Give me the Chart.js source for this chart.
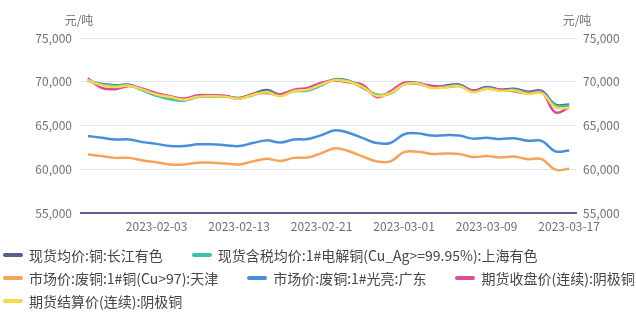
<!DOCTYPE html>
<html>
<head>
<meta charset="utf-8">
<script src="https://cdn.jsdelivr.net/npm/chart.js@4.4.0/dist/chart.umd.min.js"></script>
<style>
  body { margin: 0; background: #fff; }
  #wrap { position: relative; width: 636px; height: 313px; }
  #myChart { position: absolute; left: 0; top: 0; }
  #legend { position: absolute; left: 3px; top: 243px; width: 636px; display: flex; flex-wrap: wrap; column-gap: 29px;
    font-family: "Noto Sans CJK SC", sans-serif; font-size: 14px; color: #464646; }
  .item { display: flex; align-items: center; height: 23px; white-space: nowrap; }
  .sw { width: 20px; height: 4px; border-radius: 2px; margin-right: 6px; }
</style>
</head>
<body>
<div id="wrap">
  <canvas id="myChart" width="636" height="245"></canvas>
  <div id="legend"></div>
</div>
<script>
var dates = ['2023-01-20','2023-01-30','2023-01-31','2023-02-01','2023-02-02','2023-02-03',
  '2023-02-06','2023-02-07','2023-02-08','2023-02-09','2023-02-10','2023-02-13',
  '2023-02-14','2023-02-15','2023-02-16','2023-02-17','2023-02-20','2023-02-21',
  '2023-02-22','2023-02-23','2023-02-24','2023-02-27','2023-02-28','2023-03-01',
  '2023-03-02','2023-03-03','2023-03-06','2023-03-07','2023-03-08','2023-03-09',
  '2023-03-10','2023-03-13','2023-03-14','2023-03-15','2023-03-16','2023-03-17'];
var shownDates = ['2023-02-03','2023-02-13','2023-02-21','2023-03-01','2023-03-09','2023-03-17'];

var names = ['现货均价:铜:长江有色', '现货含税均价:1#电解铜(Cu_Ag>=99.95%):上海有色',
  '市场价:废铜:1#铜(Cu>97):天津', '市场价:废铜:1#光亮:广东', '期货收盘价(连续):阴极铜', '期货结算价(连续):阴极铜'];
var colors = ['#5a5f92', '#3dbfae', '#f5a25a', '#4a8ed9', '#d94f97', '#f4d94a'];

var cjSpot = [70150,69750,69600,69650,69100,68500,68100,67900,68300,68350,68350,68150,
  68600,69050,68550,69000,69100,69700,70300,70100,69350,68500,68700,69800,
  69850,69450,69550,69700,69000,69400,69100,69200,68850,68950,67400,67400];
var shSpot = [70100,69700,69550,69600,69000,68400,68000,67850,68250,68300,68300,68100,
  68450,68900,68500,68900,69000,69600,70250,70050,69300,68550,68650,69700,
  69750,69350,69450,69600,68900,69300,69000,69100,68750,68850,67300,67300];
var scrapTj = [61700,61500,61300,61300,61000,60800,60550,60550,60750,60750,60650,60550,
  60900,61200,60950,61300,61350,61850,62400,62050,61450,60900,60900,61950,
  62000,61750,61800,61750,61400,61500,61350,61450,61150,61150,59950,60050];
var scrapGd = [63800,63600,63400,63400,63100,62900,62650,62650,62850,62850,62750,62650,
  63000,63300,63050,63400,63450,63900,64450,64150,63550,63000,63000,64000,
  64100,63850,63900,63850,63500,63600,63450,63550,63250,63250,62050,62150];
var futClose = [70400,69300,69150,69500,69200,68700,68350,68100,68450,68450,68400,68050,
  68600,68700,68550,69100,69300,69900,70150,69900,69650,68250,68900,69900,
  69800,69550,69400,69500,69000,69200,69100,68900,68650,68800,66500,67050];
var futSettle = [70200,69600,69400,69550,69100,68550,68250,67950,68300,68350,68300,68050,
  68500,68800,68350,68950,69100,69700,70200,70000,69400,68400,68700,69700,
  69800,69300,69350,69500,68800,69200,68950,69000,68600,68700,67100,67000];

var yTicks = [55000, 60000, 65000, 70000, 75000];
var unit = '元/吨';

Chart.defaults.font.family = '"Noto Sans CJK SC", sans-serif';
Chart.defaults.color = '#6e7079';

var series = [cjSpot, shSpot, scrapTj, scrapGd, futClose, futSettle];
var datasets = series.map(function (d, i) {
  return {
    label: names[i],
    data: d,
    borderColor: colors[i],
    backgroundColor: colors[i],
    borderWidth: 2.5,
    pointRadius: 0,
    tension: 0.4,
    fill: false,
    order: series.length - 1 - i
  };
});

var unitTitles = {
  id: 'unitTitles',
  afterDraw: function (chart) {
    var ctx = chart.ctx, a = chart.chartArea;
    ctx.save();
    ctx.font = '12px "Noto Sans CJK SC", sans-serif';
    ctx.fillStyle = '#6e7079';
    ctx.textAlign = 'center';
    ctx.textBaseline = 'middle';
    ctx.fillText(unit, a.left - 2, a.top - 18);
    ctx.fillText(unit, a.right + 1, a.top - 18);
    ctx.restore();
  }
};

function yAxis(pos, w, pad) {
  return {
    position: pos,
    min: yTicks[0],
    max: yTicks[yTicks.length - 1],
    afterBuildTicks: function (s) { s.ticks = yTicks.map(function (v) { return { value: v }; }); },
    afterFit: function (s) { s.width = w; },
    grid: { display: pos === 'left', color: '#e0e6f1', drawTicks: false },
    border: { display: false },
    ticks: {
      padding: pad,
      font: { size: 12 },
      color: '#6e7079',
      callback: function (v) { return v.toLocaleString('en-US'); }
    }
  };
}

var ctx = document.getElementById('myChart').getContext('2d');
var chart = new Chart(ctx, {
  type: 'line',
  data: { labels: dates, datasets: datasets },
  options: {
    responsive: false,
    animation: false,
    layout: { padding: { top: 38, bottom: 0, left: 0, right: 0 } },
    plugins: { legend: { display: false }, tooltip: { enabled: false } },
    scales: {
      x: {
        offset: true,
        afterFit: function (s) { s.height = 32; },
        grid: { display: false, drawTicks: false },
        border: { display: true, color: '#5f6190', width: 2 },
        ticks: {
          autoSkip: false,
          maxRotation: 0,
          padding: 6,
          font: { size: 12 },
          color: '#6e7079',
          callback: function (v, i) { return shownDates.indexOf(dates[i]) >= 0 ? dates[i] : ''; }
        }
      },
      y: yAxis('left', 81, 9),
      y2: yAxis('right', 60, 7)
    }
  },
  plugins: [unitTitles]
});

// html legend built from the chart datasets
var leg = document.getElementById('legend');
chart.data.datasets.forEach(function (ds) {
  var it = document.createElement('div');
  it.className = 'item';
  it.innerHTML = '<span class="sw" style="background:' + ds.borderColor + '"></span>' + ds.label;
  leg.appendChild(it);
});
</script>
</body>
</html>
